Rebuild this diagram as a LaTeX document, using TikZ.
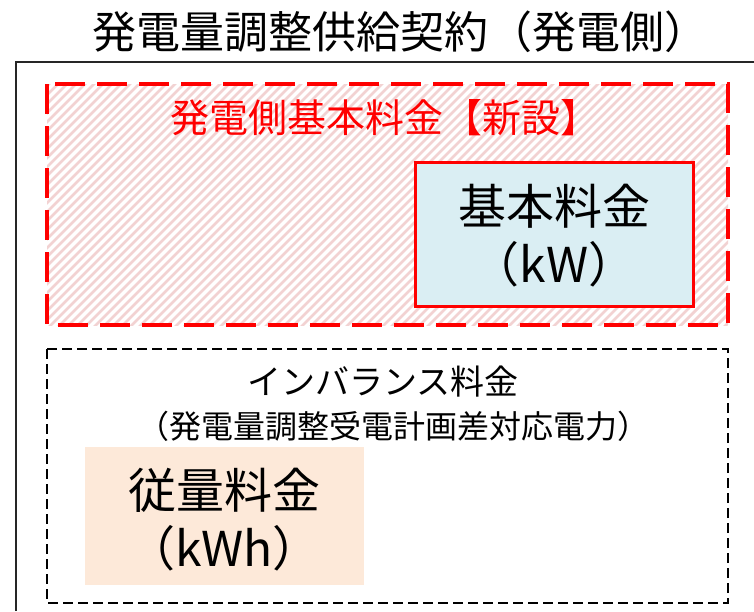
\documentclass[tikz,border=0pt]{standalone}
\usepackage{fontspec}
\setmainfont{Noto Sans CJK JP}
\definecolor{hatchpink}{RGB}{242,210,210}
\definecolor{kwblue}{RGB}{218,238,243}
\definecolor{kwhorange}{RGB}{253,233,217}
\definecolor{pptred}{RGB}{255,0,0}
\tikzset{
  outerframe/.style={draw=black!85, line width=1.5pt},
  hatchline/.style={draw=hatchpink, line width=2.8pt},
  newbox/.style={draw=pptred, line width=3.5pt, dash pattern=on 30pt off 12pt},
  kwbox/.style={draw=pptred, fill=kwblue, line width=3pt, minimum width=278pt, minimum height=144pt, inner sep=0pt},
  imbbox/.style={draw=black, line width=1.3pt, dash pattern=on 10pt off 5pt},
  kwhbox/.style={fill=kwhorange, minimum width=279pt, minimum height=138pt, inner sep=0pt},
  lbl/.style={inner sep=0pt, anchor=center, text=black},
}
\newcommand{\fs}[1]{\fontsize{#1}{#1}\selectfont}
\begin{document}
\begin{tikzpicture}[x=1pt,y=-1pt]
\useasboundingbox (0,0) rectangle (754,611);
% outer frame (continues past the right and bottom edges)
\coordinate (ofbl) at (16,611);
\coordinate (oftl) at (16,62);
\coordinate (oftr) at (754,62);
\draw[outerframe] (ofbl) -- (oftl) -- (oftr);
\node[lbl] (title) at (400,32) {\fs{44}発電量調整供給契約（発電側）};
% hatched new-charge area
\begin{scope}
  \clip (47,84) rectangle (728,325);
  \foreach \i in {-260,-251,...,740} {
    \draw[hatchline] (\i,330) -- (\i+251,79);
  }
\end{scope}
\draw[newbox] (47,84) rectangle (728,325);
\node[lbl, text=pptred] (newttl) at (385,118) {\fs{39}発電側基本料金【新設】};
\node[kwbox] (kw) at (554,234) {};
\node[lbl] (kw1) at (554,206) {\fs{48}基本料金};
\node[lbl] (kw2) at (554,264) {\fs{48}（kW）};
% imbalance area
\draw[imbbox] (47,349) rectangle (728,603);
\node[lbl] (imb1) at (383,382) {\fs{34}インバランス料金};
\node[lbl] (imb2) at (393,426) {\fs{32}（発電量調整受電計画差対応電力）};
\node[kwhbox] (kwh) at (224.5,516) {};
\node[lbl] (kwh1) at (224,490) {\fs{48}従量料金};
\node[lbl] (kwh2) at (224,548) {\fs{48}（kWh）};
\end{tikzpicture}
\end{document}
